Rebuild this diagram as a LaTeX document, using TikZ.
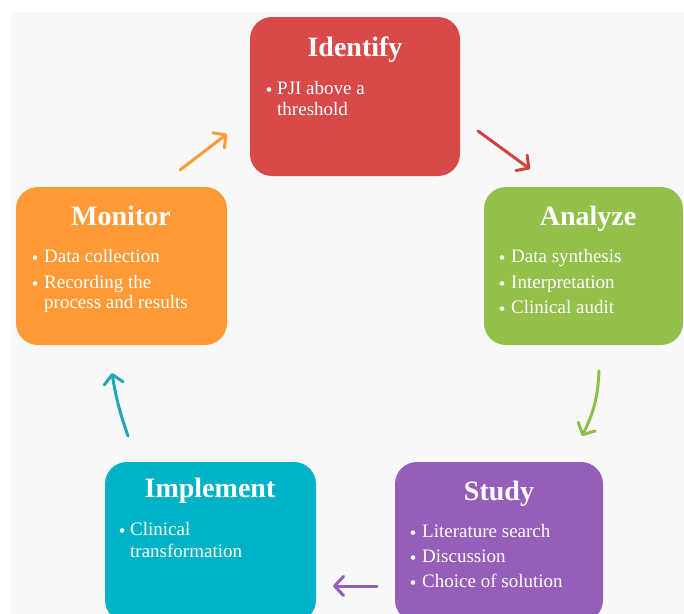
\documentclass[tikz,border=0pt]{standalone}
\usepackage{fontspec}
\setmainfont{Liberation Serif}
\usetikzlibrary{arrows.meta}

% stage colours
\definecolor{idred}{HTML}{D84A4A}
\definecolor{angreen}{HTML}{92C04A}
\definecolor{stpurple}{HTML}{955EB9}
\definecolor{imteal}{HTML}{00B2C6}
\definecolor{moorange}{HTML}{FF9A36}
\definecolor{paper}{HTML}{F8F8F8}
% arrow colours
\definecolor{arred}{HTML}{D0443F}
\definecolor{argreen}{HTML}{8DC04A}
\definecolor{arpurple}{HTML}{955EB9}
\definecolor{arteal}{HTML}{1FA6BA}
\definecolor{arorange}{HTML}{FF9A36}

\tikzset{
  stage/.style={rounded corners=22pt, inner sep=0pt, draw=none},
  ttl/.style={text=white, inner sep=0pt, anchor=base,
    font=\fontsize{28}{30}\selectfont\bfseries},
  itm/.style={text=white, inner sep=0pt, anchor=base west,
    font=\fontsize{19}{21}\selectfont},
  dot/.style={fill=white},
  flow/.style={line width=3pt, line cap=round,
    -{Straight Barb[length=9pt,width=19pt,round]}},
}

\begin{document}
\begin{tikzpicture}[x=1pt,y=-1pt]
\useasboundingbox (0,0) rectangle (684,613);
\clip (0,0) rectangle (684,613);
\fill[white] (0,0) rectangle (684,613);
\fill[paper] (11,12) rectangle (690,620);

% ---- Identify ----
\node[stage, fill=idred, minimum width=210pt, minimum height=159pt] (identify) at (355,96.5) {};
\node[ttl] (identify-t) at (355,56) {Identify};
\fill[dot] (269,89.5) circle (2.3pt);
\node[itm] (identify-1) at (277,94) {PJI above a};
\node[itm] (identify-2) at (277,115) {threshold};

% ---- Analyze ----
\node[stage, fill=angreen, minimum width=199pt, minimum height=158pt] (analyze) at (583.5,266) {};
\node[ttl] (analyze-t) at (588,225) {Analyze};
\fill[dot] (502,257.5) circle (2.3pt);
\node[itm] (analyze-1) at (511,262) {Data synthesis};
\fill[dot] (502,283.5) circle (2.3pt);
\node[itm] (analyze-2) at (511,288) {Interpretation};
\fill[dot] (502,308.5) circle (2.3pt);
\node[itm] (analyze-3) at (511,313) {Clinical audit};

% ---- Study ----
\node[stage, fill=stpurple, minimum width=208pt, minimum height=160pt] (study) at (499,542) {};
\node[ttl] (study-t) at (499,500) {Study};
\fill[dot] (413,532.5) circle (2.3pt);
\node[itm] (study-1) at (422,537) {Literature search};
\fill[dot] (413,557.5) circle (2.3pt);
\node[itm] (study-2) at (422,562) {Discussion};
\fill[dot] (413,582.5) circle (2.3pt);
\node[itm] (study-3) at (422,587) {Choice of solution};

% ---- Implement ----
\node[stage, fill=imteal, minimum width=211pt, minimum height=160pt] (implement) at (210.5,542) {};
\node[ttl] (implement-t) at (210,497) {Implement};
\fill[dot] (122,530.5) circle (2.3pt);
\node[itm] (implement-1) at (130,535) {Clinical};
\node[itm] (implement-2) at (130,557) {transformation};

% ---- Monitor ----
\node[stage, fill=moorange, minimum width=211pt, minimum height=158pt] (monitor) at (121.5,266) {};
\node[ttl] (monitor-t) at (121,225) {Monitor};
\fill[dot] (35,257.5) circle (2.3pt);
\node[itm] (monitor-1) at (44,262) {Data collection};
\fill[dot] (35,283.5) circle (2.3pt);
\node[itm] (monitor-2) at (44,288) {Recording the};
\node[itm] (monitor-3) at (44,308) {process and results};

% ---- cycle arrows ----
\coordinate (a1s) at (478,131);  \coordinate (a1e) at (530,169);
\coordinate (a2s) at (599,371);  \coordinate (a2e) at (582,436);
\coordinate (a3s) at (377,586);  \coordinate (a3e) at (333,586);
\coordinate (a4s) at (128,436);  \coordinate (a4e) at (112,373);
\coordinate (a5s) at (180,170);  \coordinate (a5e) at (227,134);

\draw[flow, arred] (a1s) -- (a1e);
\draw[flow, argreen] (a2s) to[bend left=12] (a2e);
\draw[flow, arpurple] (a3s) -- (a3e);
\draw[flow, arteal] (a4s) to[bend left=5] (a4e);
\draw[flow, arorange] (a5s) -- (a5e);
\end{tikzpicture}
\end{document}
